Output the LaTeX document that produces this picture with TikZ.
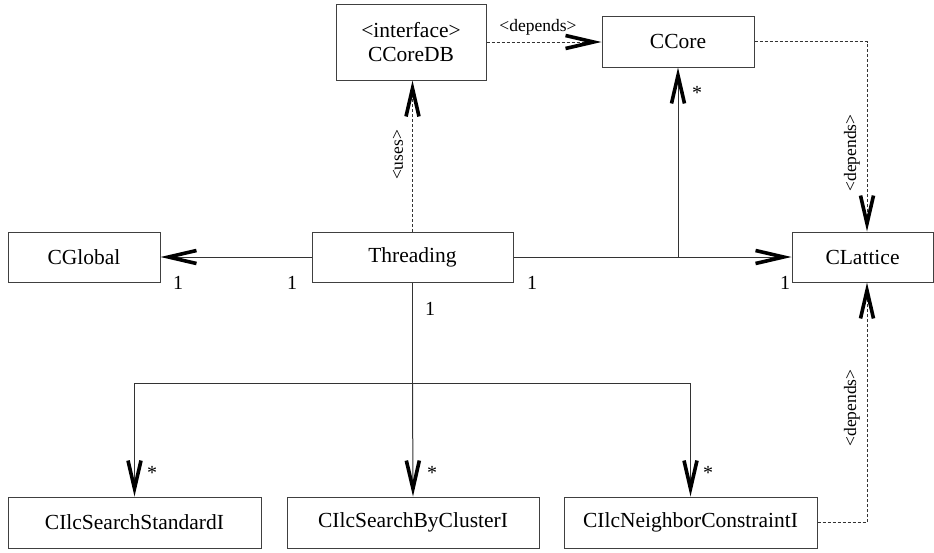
\documentclass[tikz,border=0pt]{standalone}
\usepackage{fontspec}
\setmainfont{Liberation Serif}
\usetikzlibrary{arrows.meta}
\begin{document}
\begin{tikzpicture}[x=1pt,y=-1pt,
  cls/.style={draw=black!75, line width=1pt, rectangle, inner sep=0pt, font=\fontsize{21.5}{24}\selectfont, align=center},
  conn/.style={draw=black!80, line width=1pt},
  dep/.style={conn, dash pattern=on 3pt off 2pt},
  oarr/.style={-{Straight Barb[length=28pt,width=13pt,line width=3.6pt,color=black]}},
  lbl/.style={font=\fontsize{17.5}{19}\selectfont, inner sep=0pt},
  mult/.style={font=\fontsize{20}{22}\selectfont, inner sep=0pt},
]
\useasboundingbox (0,0) rectangle (934,552);

% classes
\node[cls, minimum width=150pt, minimum height=76pt] (db) at (411,42) {<interface>\\CCoreDB};
\node[cls, minimum width=152pt, minimum height=51pt] (core) at (678,41.5) {CCore};
\node[cls, minimum width=152pt, minimum height=50pt] (glob) at (84,257) {CGlobal};
\node[cls, minimum width=201pt, minimum height=50pt] (thr) at (412.5,257) {Threading};
\node[cls, minimum width=141pt, minimum height=50pt] (lat) at (862.5,257) {CLattice};
\node[cls, minimum width=253pt, minimum height=51pt] (s1) at (134.5,522.5) {CIlcSearchStandardI};
\node[cls, minimum width=252pt, minimum height=51pt] (s2) at (413,522.5) {CIlcSearchByClusterI};
\node[cls, minimum width=253pt, minimum height=51pt] (s3) at (690.5,522.5) {CIlcNeighborConstraintI};

\coordinate (rv) at (867,0);

% associations
\draw[conn,oarr] (thr.west) -- (glob.east);
\draw[conn,oarr] (thr.east) -- (lat.west);
\coordinate (br) at (core.south |- thr.east);
\draw[conn,oarr] (br) -- (core.south);
\draw[conn] (thr.south) -- ++(0,101) coordinate (hub);
\draw[conn,oarr] (hub) -| (s1.north);
\draw[conn,oarr] (hub) -- (s2.north);
\draw[conn,oarr] (hub) -| (s3.north);

% dependencies
\draw[dep,oarr] (thr.north) -- (thr.north |- db.south);
\draw[dep,oarr] (db.east) -- (db.east -| core.west);
\draw[dep,oarr] (core.east) -- (core.east -| rv) -- (rv |- lat.north);
\draw[dep,oarr] (s3.east) -- (s3.east -| rv) -- (rv |- lat.south);

% labels
\node[lbl] (l1) at (538,27) {<depends>};
\node[lbl, rotate=90] (l2) at (398,155) {<uses>};
\node[lbl, rotate=90] (l3) at (852,153) {<depends>};
\node[lbl, rotate=90] (l4) at (852,408) {<depends>};

% multiplicities
\node[mult] (m1) at (178,283) {1};
\node[mult] (m2) at (292,283) {1};
\node[mult] (m3) at (430,309) {1};
\node[mult] (m4) at (532,283) {1};
\node[mult] (m5) at (785,283) {1};
\node[mult] (a1) at (697,93) {*};
\node[mult] (a2) at (152,473) {*};
\node[mult] (a3) at (432,473) {*};
\node[mult] (a4) at (708,473) {*};
\end{tikzpicture}
\end{document}
